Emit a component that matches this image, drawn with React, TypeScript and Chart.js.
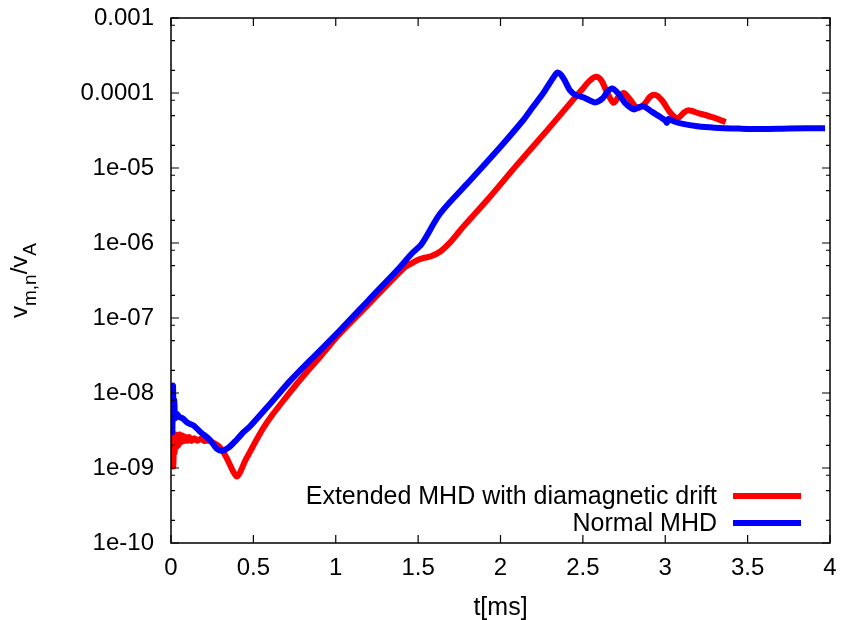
import React, { useEffect, useRef } from "react";
import { Chart, registerables } from "chart.js";

Chart.register(...registerables);

// Extended MHD with diamagnetic drift: time [ms] and normalised velocity
const extTime = [
  0, 0.003, 0.006, 0.01, 0.014, 0.018, 0.022, 0.027, 0.032, 0.038, 0.045, 0.052,
  0.06, 0.07, 0.08, 0.09, 0.1, 0.11, 0.125, 0.14, 0.16, 0.18, 0.2, 0.23, 0.26,
  0.29, 0.32, 0.35, 0.375, 0.4, 0.42, 0.45, 0.48, 0.52, 0.56, 0.612, 0.68, 0.784,
  0.9, 1.027, 1.2, 1.412, 1.45, 1.494, 1.53, 1.574, 1.635, 1.7, 1.757, 1.919, 2.1,
  2.284, 2.444, 2.5, 2.54, 2.578, 2.61, 2.64, 2.685, 2.715, 2.748, 2.78, 2.83,
  2.87, 2.91, 2.942, 2.98, 3.03, 3.074, 3.11, 3.14, 3.2, 3.28, 3.367,
];
const extValue = [
  3.4e-9, 1.8e-9, 3.0e-9, 1.3e-9, 1.05e-9, 2.2e-9, 1.6e-9, 2.8e-9, 1.9e-9, 2.7e-9,
  2.0e-9, 2.8e-9, 2.2e-9, 2.7e-9, 2.3e-9, 2.6e-9, 2.3e-9, 2.6e-9, 2.3e-9, 2.5e-9,
  2.3e-9, 2.45e-9, 2.3e-9, 2.3e-9, 2.15e-9, 1.95e-9, 1.6e-9, 1.2e-9, 9.2e-10,
  7.7e-10, 8.8e-10, 1.25e-9, 1.65e-9, 2.4e-9, 3.4e-9, 5.0e-9, 7.8e-9, 1.5e-8,
  2.95e-8, 6.25e-8, 1.53e-7, 4.6e-7, 5.2e-7, 5.9e-7, 6.3e-7, 6.6e-7, 7.7e-7,
  1.05e-6, 1.49e-6, 3.74e-6, 1.1e-5, 3.2e-5, 8.3e-5, 1.15e-4, 1.45e-4, 1.65e-4,
  1.5e-4, 1.1e-4, 7.4e-5, 8.8e-5, 1.0e-4, 8.5e-5, 6.3e-5, 7.0e-5, 9.0e-5, 9.4e-5,
  8.0e-5, 5.5e-5, 4.6e-5, 5.4e-5, 5.9e-5, 5.4e-5, 4.8e-5, 4.1e-5,
];

// Normal MHD
const mhdTime = [
  0, 0.004, 0.008, 0.012, 0.016, 0.02, 0.025, 0.035, 0.05, 0.07, 0.1, 0.136, 0.18,
  0.237, 0.278, 0.31, 0.347, 0.4, 0.44, 0.48, 0.6, 0.723, 0.85, 1.027, 1.2, 1.392,
  1.463, 1.52, 1.635, 1.818, 2.0, 2.14, 2.182, 2.26, 2.32, 2.347, 2.38, 2.42,
  2.456, 2.5, 2.54, 2.578, 2.62, 2.65, 2.679, 2.72, 2.76, 2.809, 2.84, 2.87, 2.92,
  2.97, 3.0, 3.01, 3.02, 3.05, 3.1, 3.196, 3.3, 3.45, 3.58, 3.75, 3.97,
];
const mhdValue = [
  4.0e-9, 7.5e-9, 3.0e-9, 1.25e-8, 5.0e-9, 8.0e-9, 4.6e-9, 5.3e-9, 4.8e-9, 4.6e-9,
  4.0e-9, 3.7e-9, 3.0e-9, 2.36e-9, 1.8e-9, 1.7e-9, 1.85e-9, 2.4e-9, 3.0e-9, 3.6e-9,
  7.1e-9, 1.45e-8, 2.8e-8, 6.9e-8, 1.74e-7, 4.83e-7, 7.3e-7, 9.6e-7, 2.49e-6,
  6.9e-6, 1.92e-5, 4.4e-5, 5.9e-5, 1.0e-4, 1.6e-4, 1.87e-4, 1.6e-4, 1.1e-4,
  9.4e-5, 8.8e-5, 8.0e-5, 7.5e-5, 8.5e-5, 1.05e-4, 1.15e-4, 9.5e-5, 7.2e-5,
  6.05e-5, 6.5e-5, 6.6e-5, 5.6e-5, 4.8e-5, 4.3e-5, 4.0e-5, 4.5e-5, 4.2e-5, 3.9e-5,
  3.6e-5, 3.45e-5, 3.35e-5, 3.3e-5, 3.35e-5, 3.4e-5,
];

const seriesLabels = ["Extended MHD with diamagnetic drift", "Normal MHD"];
const seriesColors = ["#ff0000", "#0000ff"];

const yTickValues = [1e-3, 1e-4, 1e-5, 1e-6, 1e-7, 1e-8, 1e-9, 1e-10];
const yTickLabels = ["0.001", "0.0001", "1e-05", "1e-06", "1e-07", "1e-08", "1e-09", "1e-10"];
const yMinorFactors = [2, 5, 8];
const xTickValues = [0, 0.5, 1, 1.5, 2, 2.5, 3, 3.5, 4];
const xTickLabels = ["0", "0.5", "1", "1.5", "2", "2.5", "3", "3.5", "4"];

const FONT = "'Liberation Sans', Arial, Helvetica, sans-serif";
const TICK_SIZE = 24;
const TEXT_SIZE = 25;
const SUB_SIZE = 19;

const framePlugin = {
  id: "gnuplotFrame",
  afterDraw(chart: any) {
    const { ctx, chartArea } = chart;
    const { left, right, top, bottom } = chartArea;
    const xs = chart.scales.x;
    const ys = chart.scales.y;
    ctx.save();

    // border
    ctx.strokeStyle = "#000";
    ctx.lineWidth = 1.5;
    ctx.strokeRect(left, top, right - left, bottom - top);

    // inward ticks on all four sides
    ctx.lineWidth = 1.2;
    ctx.beginPath();
    const major = 8;
    const minor = 4;
    xTickValues.forEach((v) => {
      const px = xs.getPixelForValue(v);
      ctx.moveTo(px, bottom);
      ctx.lineTo(px, bottom - major);
      ctx.moveTo(px, top);
      ctx.lineTo(px, top + major);
    });
    yTickValues.forEach((v) => {
      const py = ys.getPixelForValue(v);
      ctx.moveTo(left, py);
      ctx.lineTo(left + major, py);
      ctx.moveTo(right, py);
      ctx.lineTo(right - major, py);
      if (v < 1e-3) {
        yMinorFactors.forEach((f) => {
          const my = ys.getPixelForValue(v * f);
          ctx.moveTo(left, my);
          ctx.lineTo(left + minor, my);
          ctx.moveTo(right, my);
          ctx.lineTo(right - minor, my);
        });
      }
    });
    ctx.stroke();

    // key
    ctx.font = `${TEXT_SIZE}px ${FONT}`;
    ctx.fillStyle = "#000";
    ctx.textAlign = "right";
    ctx.textBaseline = "middle";
    const keyRows = [496, 523];
    seriesLabels.forEach((label, i) => {
      const y = keyRows[i];
      ctx.fillText(label, 717, y + 1);
      ctx.strokeStyle = seriesColors[i];
      ctx.lineWidth = 6;
      ctx.beginPath();
      ctx.moveTo(733, y);
      ctx.lineTo(801, y);
      ctx.stroke();
    });

    // x title
    ctx.textAlign = "center";
    ctx.textBaseline = "alphabetic";
    ctx.fillStyle = "#000";
    ctx.fillText("t[ms]", (left + right) / 2, 615);

    // y title with subscripts, rotated
    const parts = [
      { t: "v", sub: false },
      { t: "m,n", sub: true },
      { t: "/v", sub: false },
      { t: "A", sub: true },
    ];
    const widths = parts.map((p) => {
      ctx.font = `${p.sub ? SUB_SIZE : TICK_SIZE}px ${FONT}`;
      return ctx.measureText(p.t).width;
    });
    const total = widths.reduce((a, b) => a + b, 0);
    ctx.translate(27, (top + bottom) / 2);
    ctx.rotate(-Math.PI / 2);
    ctx.textAlign = "left";
    let cx = -total / 2;
    parts.forEach((p, i) => {
      ctx.font = `${p.sub ? SUB_SIZE : TICK_SIZE}px ${FONT}`;
      ctx.fillText(p.t, cx, p.sub ? 9 : 0);
      cx += widths[i];
    });
    ctx.restore();
  },
};

export default function App() {
  const canvasRef = useRef<HTMLCanvasElement | null>(null);

  useEffect(() => {
    if (!canvasRef.current) return;
    const toPoints = (ts: number[], vs: number[]) => ts.map((t, i) => ({ x: t, y: vs[i] }));

    const chart = new Chart(canvasRef.current, {
      type: "line",
      data: {
        datasets: [
          {
            label: seriesLabels[0],
            data: toPoints(extTime, extValue),
            borderColor: seriesColors[0],
            borderWidth: 6,
            pointRadius: 0,
            tension: 0.3,
            borderJoinStyle: "round",
            order: 2,
          },
          {
            label: seriesLabels[1],
            data: toPoints(mhdTime, mhdValue),
            borderColor: seriesColors[1],
            borderWidth: 6,
            pointRadius: 0,
            tension: 0.3,
            borderJoinStyle: "round",
            order: 1,
          },
        ],
      },
      options: {
        animation: false,
        responsive: false,
        devicePixelRatio: 1,
        layout: { padding: { left: 0, right: 13, top: 18, bottom: 0 } },
        plugins: {
          legend: { display: false },
          tooltip: { enabled: false },
        },
        scales: {
          x: {
            type: "linear",
            min: 0,
            max: 4,
            grid: { display: false, drawTicks: false },
            border: { display: false },
            afterBuildTicks: (scale: any) => {
              scale.ticks = xTickValues.map((v) => ({ value: v }));
            },
            afterFit: (scale: any) => {
              scale.height = 77;
              scale.paddingLeft = 0;
              scale.paddingRight = 0;
            },
            ticks: {
              autoSkip: false,
              maxRotation: 0,
              padding: 11,
              color: "#000",
              font: { family: FONT, size: TICK_SIZE },
              callback: (value: any) => {
                const i = xTickValues.findIndex((v) => Math.abs(v - Number(value)) < 1e-9);
                return i >= 0 ? xTickLabels[i] : "";
              },
            },
          },
          y: {
            type: "logarithmic",
            min: 1e-10,
            max: 1e-3,
            grid: { display: false, drawTicks: false },
            border: { display: false },
            afterBuildTicks: (scale: any) => {
              scale.ticks = yTickValues.map((v) => ({ value: v }));
            },
            afterFit: (scale: any) => {
              scale.width = 171;
              scale.paddingTop = 0;
              scale.paddingBottom = 0;
            },
            ticks: {
              autoSkip: false,
              padding: 17,
              color: "#000",
              font: { family: FONT, size: TICK_SIZE },
              callback: (value: any) => {
                const i = yTickValues.findIndex((v) => Math.abs(Math.log10(v) - Math.log10(Number(value))) < 1e-6);
                return i >= 0 ? yTickLabels[i] : "";
              },
            },
          },
        },
      },
      plugins: [framePlugin],
    });
    return () => chart.destroy();
  }, []);

  return (
    <div style={{ position: "fixed", left: 0, top: 0, width: 843, height: 620, background: "#fff" }}>
      <canvas ref={canvasRef} width={843} height={620} style={{ width: 843, height: 620 }} />
    </div>
  );
}
